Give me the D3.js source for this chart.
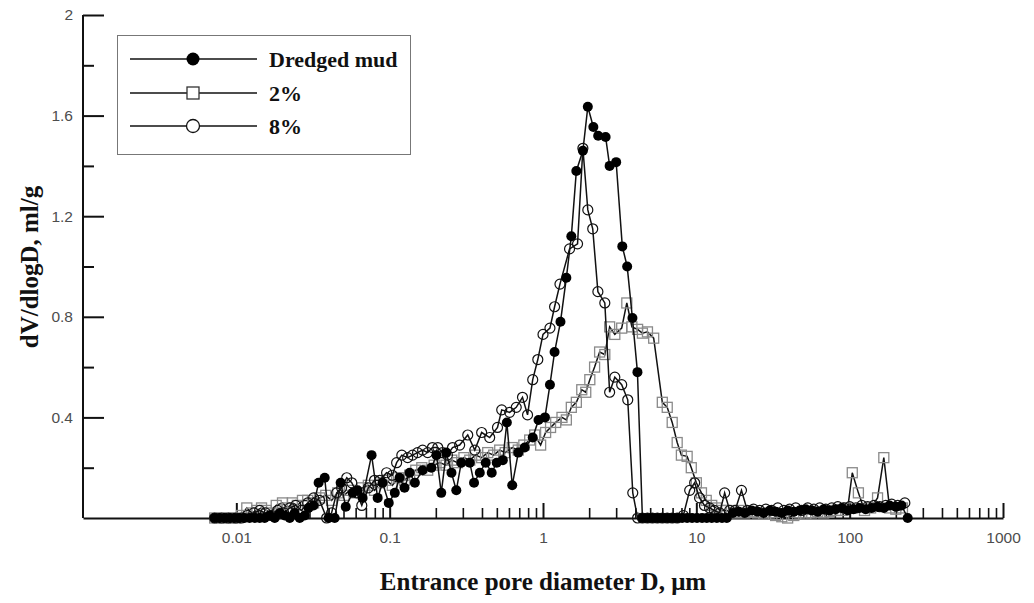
<!DOCTYPE html>
<html>
<head>
<meta charset="utf-8">
<script src="https://cdn.jsdelivr.net/npm/d3@7"></script>
<style>
  body { margin: 0; background: #fff; }
  svg { display: block; }
  .tick text { font-family: "Liberation Sans", Arial, sans-serif; font-size: 15.5px; fill: #4d4d4d; }
  .title { font-family: "Liberation Serif", "Times New Roman", serif; font-weight: bold; fill: #111; }
</style>
</head>
<body>
<div id="chart"></div>
<script>
// pore diameter D (um) and dV/dlogD (ml/g)
const mudD = [0.00722, 0.00778, 0.00839, 0.00904, 0.00975, 0.0105, 0.0113, 0.0122, 0.0132, 0.0142,
    0.0153, 0.0165, 0.0178, 0.0192, 0.0207, 0.0223, 0.0240, 0.0259, 0.0279, 0.0296,
    0.0319, 0.0344, 0.0377, 0.0400, 0.0438, 0.0479, 0.0517, 0.0574, 0.0618, 0.0666,
    0.0762, 0.0835, 0.0899, 0.0986, 0.108, 0.116, 0.125, 0.135, 0.146, 0.164,
    0.187, 0.202, 0.217, 0.234, 0.253, 0.272, 0.293, 0.333, 0.355, 0.387,
    0.423, 0.463, 0.499, 0.547, 0.581, 0.630, 0.690, 0.760, 0.857, 0.935,
    1.03, 1.11, 1.19, 1.30, 1.42, 1.53, 1.65, 1.82, 1.96, 2.13,
    2.29, 2.56, 2.72, 3.00, 3.29, 3.54, 3.83, 4.13, 4.45, 4.80,
    5.17, 5.57, 6.00, 6.46, 6.96, 7.50, 8.08, 8.71, 9.38, 10.1,
    10.9, 11.7, 12.6, 13.6, 14.7, 15.8, 17.3, 18.9, 20.7, 22.9,
    25.1, 27.5, 30.1, 32.9, 36.1, 39.4, 43.2, 47.2, 51.7, 56.6,
    61.9, 67.7, 74.1, 81.2, 88.8, 97.2, 106, 116, 127, 139,
    152, 167, 182, 200, 218, 239];
const mudV = [0, 0, 0, 0, 0, 0, 0, 0, 0, 0,
    0, 0.01, 0, 0.02, 0.01, 0, 0.02, 0, 0.01, 0.04,
    0.05, 0.14, 0.16, 0, 0, 0.14, 0.045, 0.10, 0.11, 0.08,
    0.25, 0.08, 0.14, 0.06, 0.10, 0.16, 0.12, 0.18, 0.14, 0.19,
    0.20, 0.25, 0.10, 0.26, 0.18, 0.11, 0.22, 0.22, 0.14, 0.18,
    0.22, 0.18, 0.22, 0.23, 0.38, 0.13, 0.26, 0.28, 0.32, 0.39,
    0.40, 0.53, 0.66, 0.78, 0.955, 1.12, 1.38, 1.46, 1.635, 1.555,
    1.52, 1.515, 1.40, 1.415, 1.08, 1.00, 0.795, 0.58, 0, 0,
    0, 0, 0, 0, 0, 0, 0, 0, 0, 0,
    0, 0, 0, 0, 0, 0, 0.02, 0.025, 0.02, 0.03,
    0.025, 0.02, 0.03, 0.025, 0.02, 0.03, 0.025, 0.03, 0.035, 0.03,
    0.025, 0.035, 0.03, 0.035, 0.04, 0.03, 0.035, 0.04, 0.035, 0.04,
    0.045, 0.04, 0.05, 0.045, 0.05, 0];

const pct2D = [0.00722, 0.00801, 0.00890, 0.00990, 0.0108, 0.0117, 0.0126, 0.0136, 0.0146, 0.0157,
    0.0169, 0.0182, 0.0200, 0.0216, 0.0232, 0.0250, 0.0270, 0.0292, 0.0319, 0.0349,
    0.0383, 0.0418, 0.0459, 0.0504, 0.0548, 0.0604, 0.0662, 0.0726, 0.0797, 0.0861,
    0.0955, 0.104, 0.114, 0.125, 0.135, 0.148, 0.162, 0.177, 0.195, 0.212,
    0.233, 0.254, 0.277, 0.305, 0.333, 0.363, 0.398, 0.436, 0.477, 0.522,
    0.567, 0.630, 0.690, 0.750, 0.819, 0.883, 0.965, 1.04, 1.12, 1.21,
    1.33, 1.42, 1.53, 1.65, 1.79, 1.90, 2.02, 2.17, 2.34, 2.53,
    2.72, 2.94, 3.26, 3.52, 3.80, 4.14, 4.45, 4.80, 5.27, 6.00,
    6.46, 6.96, 7.50, 7.99, 8.71, 9.27, 10.0, 10.8, 11.6, 12.6,
    13.5, 14.6, 15.8, 17.5, 18.9, 20.7, 22.9, 25.1, 27.5, 30.1,
    32.9, 36.1, 39.4, 43.2, 47.2, 51.7, 56.6, 61.9, 67.7, 74.1,
    81.2, 88.8, 97.2, 104, 114, 125, 137, 152, 167, 182,
    200, 221];
const pct2V = [0, 0, 0, 0, 0.01, 0.04, 0.02, 0.03, 0.04, 0.03,
    0.02, 0.05, 0.06, 0.04, 0.06, 0.05, 0.07, 0.07, 0.06, 0.08,
    0.09, 0.07, 0.10, 0.09, 0.11, 0.10, 0.12, 0.13, 0.11, 0.14,
    0.15, 0.13, 0.16, 0.15, 0.17, 0.19, 0.20, 0.19, 0.21, 0.22,
    0.21, 0.23, 0.22, 0.24, 0.23, 0.25, 0.24, 0.26, 0.25, 0.27,
    0.26, 0.28, 0.27, 0.29, 0.31, 0.33, 0.29, 0.34, 0.36, 0.38,
    0.40, 0.39, 0.44, 0.46, 0.51, 0.50, 0.55, 0.60, 0.66, 0.65,
    0.76, 0.73, 0.755, 0.855, 0.76, 0.75, 0.735, 0.74, 0.715, 0.46,
    0.44, 0.38, 0.30, 0.25, 0.245, 0.20, 0.14, 0.10, 0.07, 0.05,
    0.04, 0.03, 0.03, 0.02, 0.03, 0.02, 0.025, 0.02, 0.015, 0.02,
    0.01, 0.005, 0, 0.01, 0.02, 0.015, 0.02, 0.025, 0.02, 0.025,
    0.03, 0.03, 0.04, 0.18, 0.10, 0.03, 0.04, 0.08, 0.24, 0.04,
    0.035, 0.04];

const pct8D = [0.00722, 0.00801, 0.00890, 0.00990, 0.0108, 0.0118, 0.0130, 0.0142, 0.0155, 0.0169,
    0.0186, 0.0204, 0.0223, 0.0244, 0.0266, 0.0292, 0.0319, 0.0349, 0.0388, 0.0418,
    0.0451, 0.0486, 0.0525, 0.0566, 0.0610, 0.0658, 0.0726, 0.0797, 0.0861, 0.0955,
    0.104, 0.111, 0.120, 0.131, 0.141, 0.152, 0.164, 0.177, 0.190, 0.206,
    0.221, 0.238, 0.257, 0.286, 0.323, 0.359, 0.398, 0.449, 0.505, 0.538,
    0.606, 0.669, 0.735, 0.793, 0.857, 0.925, 1.00, 1.11, 1.19, 1.29,
    1.49, 1.68, 1.82, 1.96, 2.11, 2.28, 2.53, 2.72, 2.94, 3.26,
    3.57, 3.85, 4.14, 4.45, 4.80, 5.17, 5.57, 6.00, 6.46, 6.96,
    7.50, 8.23, 9.05, 9.75, 10.5, 11.3, 12.2, 13.1, 14.2, 15.3,
    16.5, 17.9, 19.7, 21.5, 23.6, 25.9, 28.4, 31.0, 34.0, 37.2,
    40.6, 44.5, 48.7, 53.3, 58.4, 63.8, 69.9, 76.5, 83.7, 91.6,
    100, 110, 120, 131, 144, 157, 172, 188, 206, 229];
const pct8V = [0, 0, 0, 0, 0, 0.01, 0.02, 0.03, 0.02, 0.01,
    0.03, 0.02, 0.04, 0.05, 0.03, 0.06, 0.08, 0.07, 0, 0.02,
    0.10, 0.12, 0.16, 0.14, 0.10, 0.05, 0.12, 0.15, 0.15, 0.18,
    0.17, 0.22, 0.25, 0.24, 0.25, 0.26, 0.27, 0.26, 0.28, 0.28,
    0.26, 0.25, 0.28, 0.29, 0.33, 0.27, 0.34, 0.32, 0.36, 0.43,
    0.42, 0.44, 0.48, 0.41, 0.55, 0.63, 0.73, 0.755, 0.84, 0.93,
    1.07, 1.09, 1.47, 1.225, 1.15, 0.90, 0.855, 0.50, 0.56, 0.53,
    0.47, 0.10, 0, 0, 0, 0, 0, 0, 0, 0,
    0, 0.01, 0.11, 0.14, 0.08, 0.05, 0.04, 0.03, 0.02, 0.10,
    0.03, 0.03, 0.11, 0.03, 0.035, 0.03, 0.035, 0.03, 0.04, 0.03,
    0.035, 0.04, 0.03, 0.04, 0.035, 0.04, 0.035, 0.04, 0.045, 0.04,
    0.045, 0.04, 0.05, 0.045, 0.05, 0.045, 0.05, 0.055, 0.05, 0.06];

const seriesNames = ["Dredged mud", "2%", "8%"];
const xMajorTicks = [0.01, 0.1, 1, 10, 100, 1000];
const yMajorTicks = [0.4, 0.8, 1.2, 1.6, 2];
const yMinorTicks = [0.2, 0.6, 1.0, 1.4, 1.8];

const width = 1034, height = 603;
const margin = { left: 83, right: 1003, top: 15, bottom: 518 };

const svg = d3.select("#chart").append("svg")
    .attr("width", width)
    .attr("height", height);

const x = d3.scaleLog().domain([0.001, 1000]).range([margin.left, margin.right]);
const y = d3.scaleLinear().domain([0, 2]).range([margin.bottom, margin.top]);

// minor ticks 2..9 for each decade from 0.01 up
const xMinorTicks = [];
xMajorTicks.slice(0, -1).forEach(t => {
    for (let k = 2; k <= 9; k++) xMinorTicks.push(+(t * k).toPrecision(3));
});

const zip = (ds, vs) => ds.map((d, i) => ({ d: d, v: vs[i] }));
const mud = zip(mudD, mudV), p2 = zip(pct2D, pct2V), p8 = zip(pct8D, pct8V);

// axes
svg.append("g")
    .attr("transform", `translate(0,${margin.bottom})`)
    .call(d3.axisBottom(x).tickValues(xMinorTicks).tickSize(-10).tickSizeOuter(0).tickFormat(""))
    .call(g => g.select(".domain").remove())
    .call(g => g.selectAll("line").attr("stroke", "#111").attr("stroke-width", 1.6));

svg.append("g")
    .attr("transform", `translate(0,${margin.bottom})`)
    .call(d3.axisBottom(x).tickValues(xMajorTicks).tickSize(-15).tickSizeOuter(0)
        .tickPadding(14).tickFormat(d => String(d)))
    .call(g => g.select(".domain").attr("stroke", "#111").attr("stroke-width", 2))
    .call(g => g.selectAll("line").attr("stroke", "#111").attr("stroke-width", 2));

svg.append("g")
    .attr("transform", `translate(${margin.left},0)`)
    .call(d3.axisLeft(y).tickValues(yMinorTicks).tickSize(-11).tickFormat(""))
    .call(g => g.select(".domain").remove())
    .call(g => g.selectAll("line").attr("stroke", "#111").attr("stroke-width", 2));

svg.append("g")
    .attr("transform", `translate(${margin.left},0)`)
    .call(d3.axisLeft(y).tickValues(yMajorTicks).tickSize(-21).tickSizeOuter(0)
        .tickPadding(10).tickFormat(d => String(d)))
    .call(g => g.select(".domain").attr("stroke", "#111").attr("stroke-width", 2)
        .attr("d", `M0,${y(2)}V${margin.bottom}`))
    .call(g => g.selectAll("line").attr("stroke", "#111").attr("stroke-width", 2));

// titles
svg.append("text")
    .attr("class", "title")
    .attr("x", 543).attr("y", 590)
    .attr("text-anchor", "middle")
    .style("font-size", "25px")
    .text("Entrance pore diameter D, μm");

svg.append("text")
    .attr("class", "title")
    .attr("transform", "translate(38,267) rotate(-90)")
    .attr("text-anchor", "middle")
    .style("font-size", "25px")
    .text("dV/dlogD, ml/g");

// series
const line = d3.line().x(d => x(d.d)).y(d => y(d.v));

const drawLine = data => svg.append("path")
    .datum(data)
    .attr("fill", "none")
    .attr("stroke", "#111")
    .attr("stroke-width", 1.5)
    .attr("d", line);

drawLine(p2);
svg.append("g").selectAll("rect")
    .data(p2).join("rect")
    .attr("x", d => x(d.d) - 5).attr("y", d => y(d.v) - 5)
    .attr("width", 10).attr("height", 10)
    .attr("fill", "none").attr("stroke", "#8a8a8a").attr("stroke-width", 1.3);

drawLine(p8);
svg.append("g").selectAll("circle")
    .data(p8).join("circle")
    .attr("cx", d => x(d.d)).attr("cy", d => y(d.v)).attr("r", 5)
    .attr("fill", "none").attr("stroke", "#111").attr("stroke-width", 1.2);

drawLine(mud);
svg.append("g").selectAll("circle")
    .data(mud).join("circle")
    .attr("cx", d => x(d.d)).attr("cy", d => y(d.v)).attr("r", 5)
    .attr("fill", "#000");

// legend
const legend = svg.append("g");
legend.append("rect")
    .attr("x", 117.5).attr("y", 35.5).attr("width", 293).attr("height", 119)
    .attr("fill", "#fff").attr("stroke", "#777").attr("stroke-width", 1);

const legendY = [59, 93, 126];
seriesNames.forEach((name, i) => {
    const ly = legendY[i];
    legend.append("line")
        .attr("x1", 130).attr("x2", 257).attr("y1", ly).attr("y2", ly)
        .attr("stroke", "#111").attr("stroke-width", 1.5);
    if (i === 0) {
        legend.append("circle").attr("cx", 193).attr("cy", ly).attr("r", 6.5).attr("fill", "#000");
    } else if (i === 1) {
        legend.append("rect").attr("x", 187).attr("y", ly - 6).attr("width", 12).attr("height", 12)
            .attr("fill", "#fff").attr("stroke", "#333").attr("stroke-width", 1.3);
    } else {
        legend.append("circle").attr("cx", 193).attr("cy", ly).attr("r", 6.5)
            .attr("fill", "#fff").attr("stroke", "#111").attr("stroke-width", 1.3);
    }
    legend.append("text")
        .attr("class", "title")
        .attr("x", 269).attr("y", ly + 8)
        .style("font-size", "22px")
        .text(name);
});
</script>
</body>
</html>
